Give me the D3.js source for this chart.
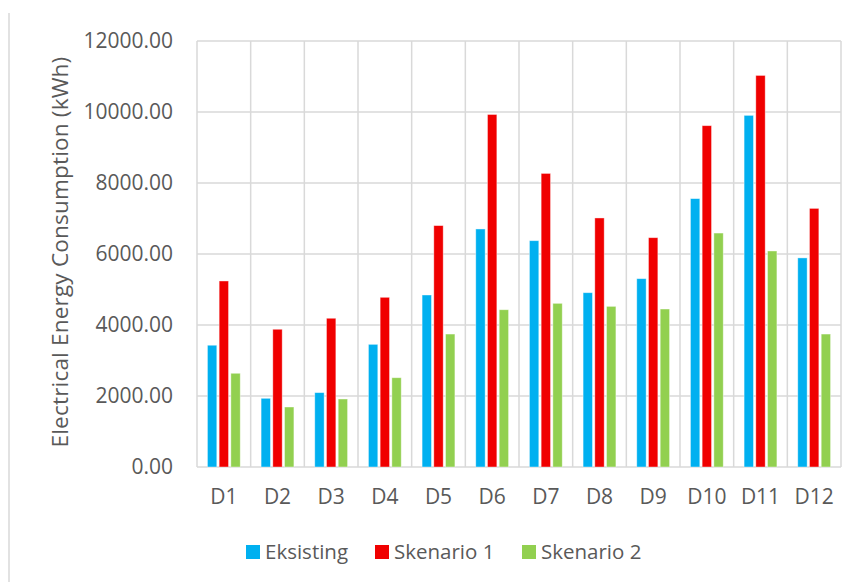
<!DOCTYPE html>
<html>
<head>
<meta charset="utf-8">
<title>Electrical Energy Consumption</title>
<style>
  html, body { margin: 0; padding: 0; background: #fff; }
  body, text { font-family: 'Open Sans', sans-serif; }
  #chart { width: 857px; height: 582px; }
  .grid line { stroke: #d9d9d9; stroke-width: 1.5; }
  .y_axis text, .x_axis text { fill: #595959; font-size: 21px; }
  .y_axis path, .x_axis path, .y_axis line, .x_axis line { display: none; }
  .legend text { fill: #595959; font-size: 20.5px; }
</style>
<script src="https://cdn.jsdelivr.net/npm/d3@7/dist/d3.min.js"></script>
</head>
<body>
<div id="chart"></div>
<script>
var categories = ["D1", "D2", "D3", "D4", "D5", "D6", "D7", "D8", "D9", "D10", "D11", "D12"];
var series = ["Eksisting", "Skenario 1", "Skenario 2"];
var eksisting = [3430, 1935, 2095, 3455, 4845, 6705, 6375, 4910, 5305, 7560, 9905, 5890];
var skenario1 = [5240, 3880, 4190, 4780, 6800, 9930, 8270, 7015, 6460, 9615, 11030, 7285];
var skenario2 = [2640, 1690, 1915, 2515, 3745, 4430, 4610, 4525, 4450, 6590, 6085, 3745];
var y_ticks = [0, 2000, 4000, 6000, 8000, 10000, 12000];
var colors = ["#00b0f0", "#f00000", "#92d050"];

var values = [eksisting, skenario1, skenario2];
var data = categories.map(function(c, i) {
  return { cat: c, vals: series.map(function(s, j) { return { name: s, value: values[j][i] }; }) };
});

var W = 857, H = 582;
var margin = { top: 41, right: 16, bottom: 115, left: 197 };
var width = W - margin.left - margin.right;
var height = H - margin.top - margin.bottom;

var svg = d3.select("#chart").append("svg")
  .attr("width", W).attr("height", H);

// outer frame line on the left
svg.append("line")
  .attr("x1", 9).attr("x2", 9).attr("y1", 13).attr("y2", H)
  .attr("stroke", "#d9d9d9").attr("stroke-width", 1.5);

var chart = svg.append("g")
  .attr("transform", "translate(" + margin.left + "," + margin.top + ")");

var x0 = d3.scaleBand().domain(categories).range([0, width]).padding(0);
var x1 = d3.scaleBand().domain(series).range([0, x0.bandwidth()])
  .paddingInner(0.2).paddingOuter(0.89);
var y = d3.scaleLinear().domain([0, 12000]).range([height, 0]);
var color = d3.scaleOrdinal().domain(series).range(colors);

// gridlines
var grid = chart.append("g").attr("class", "grid");
grid.selectAll(".hgrid").data(y_ticks).enter().append("line")
  .attr("x1", 0).attr("x2", width)
  .attr("y1", function(d) { return y(d); })
  .attr("y2", function(d) { return y(d); });
var edges = categories.map(function(c) { return x0(c); }).concat([width]);
grid.selectAll(".vgrid").data(edges).enter().append("line")
  .attr("x1", function(d) { return d; }).attr("x2", function(d) { return d; })
  .attr("y1", 0).attr("y2", height);

// axes
chart.append("g").attr("class", "y_axis")
  .attr("transform", "translate(-4,0)")
  .call(d3.axisLeft(y).tickValues(y_ticks).tickSize(0).tickPadding(20)
    .tickFormat(function(d) { return d3.format(".2f")(d); }));

chart.append("g").attr("class", "x_axis")
  .attr("transform", "translate(0," + height + ")")
  .call(d3.axisBottom(x0).tickSize(0).tickPadding(22));

// bars
var groups = chart.selectAll(".grp").data(data).enter().append("g")
  .attr("transform", function(d) { return "translate(" + x0(d.cat) + ",0)"; });
groups.selectAll("rect").data(function(d) { return d.vals; }).enter().append("rect")
  .attr("x", function(d) { return x1(d.name); })
  .attr("width", x1.bandwidth())
  .attr("y", function(d) { return y(d.value); })
  .attr("height", function(d) { return height - y(d.value); })
  .attr("fill", function(d) { return color(d.name); })
  .attr("stroke", "#ffffff").attr("stroke-opacity", 0.5).attr("stroke-width", 0.8);

// y title
svg.append("text")
  .attr("transform", "translate(68,252) rotate(-90)")
  .attr("text-anchor", "middle")
  .attr("fill", "#595959")
  .style("font-size", "22.5px")
  .style("letter-spacing", "0.2px")
  .text("Electrical Energy Consumption (kWh)");

// legend
var legend_x = [246, 375, 522];
var legend = svg.append("g").attr("class", "legend");
var items = legend.selectAll("g").data(series).enter().append("g")
  .attr("transform", function(d, i) { return "translate(" + legend_x[i] + ",545)"; });
items.append("rect").attr("width", 14).attr("height", 14)
  .attr("fill", function(d) { return color(d); });
items.append("text").attr("x", 19).attr("y", 7).attr("dy", "0.35em")
  .text(function(d) { return d; });
</script>
</body>
</html>
